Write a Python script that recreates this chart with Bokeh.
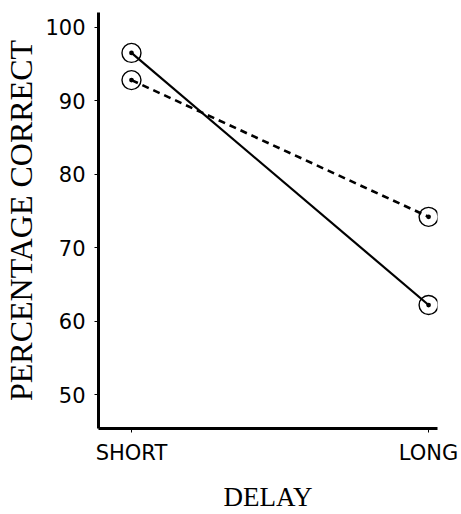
from bokeh.plotting import figure
from bokeh.models import Range1d, FixedTicker
from bokeh.embed import file_html
from bokeh.resources import INLINE

# Data
categories = ["SHORT", "LONG"]
x_pos = [0, 1]
solid_values = [96.5, 62.2]
dashed_values = [92.8, 74.2]
y_ticks = [50, 60, 70, 80, 90, 100]

p = figure(width=461, height=514, output_backend="svg", toolbar_location=None,
           x_range=Range1d(-0.111, 1.030), y_range=Range1d(45.4, 102.0),
           min_border_left=97, min_border_right=24, min_border_top=12, min_border_bottom=83)

p.outline_line_color = None
p.xgrid.visible = False
p.ygrid.visible = False

p.line(x_pos, solid_values, line_color="black", line_width=2.2)
p.line(x_pos, dashed_values, line_color="black", line_width=2.6, line_dash="7 5")
p.scatter(x_pos, solid_values, marker="circle_dot", size=19, line_color="black",
          fill_color=None, line_width=1.4)
p.scatter(x_pos, dashed_values, marker="circle_dot", size=19, line_color="black",
          fill_color=None, line_width=1.4)

for ax in (p.xaxis[0], p.yaxis[0]):
    ax.axis_line_width = 3
    ax.axis_line_color = "black"
    ax.major_tick_line_color = "black"
    ax.major_tick_line_width = 1
    ax.major_tick_in = 0
    ax.major_tick_out = 4
    ax.minor_tick_line_color = None
    ax.major_label_text_font = "DejaVu Sans"
    ax.major_label_text_font_size = "21px"
    ax.major_label_text_color = "black"
    ax.axis_label_text_font = "Liberation Serif"
    ax.axis_label_text_font_style = "normal"
    ax.axis_label_text_color = "black"

p.xaxis.ticker = FixedTicker(ticks=x_pos)
p.xaxis.major_label_overrides = {x: c for x, c in zip(x_pos, categories)}
p.xaxis.major_label_standoff = 8
p.xaxis.axis_label = "DELAY"
p.xaxis.axis_label_text_font_size = "27px"
p.xaxis.axis_label_standoff = 14

p.yaxis.ticker = FixedTicker(ticks=y_ticks)
p.yaxis.major_label_standoff = 9
p.yaxis.axis_label = "PERCENTAGE CORRECT"
p.yaxis.axis_label_text_font_size = "32px"
p.yaxis.axis_label_standoff = 3

open("out.html", "w").write(file_html(p, INLINE))
